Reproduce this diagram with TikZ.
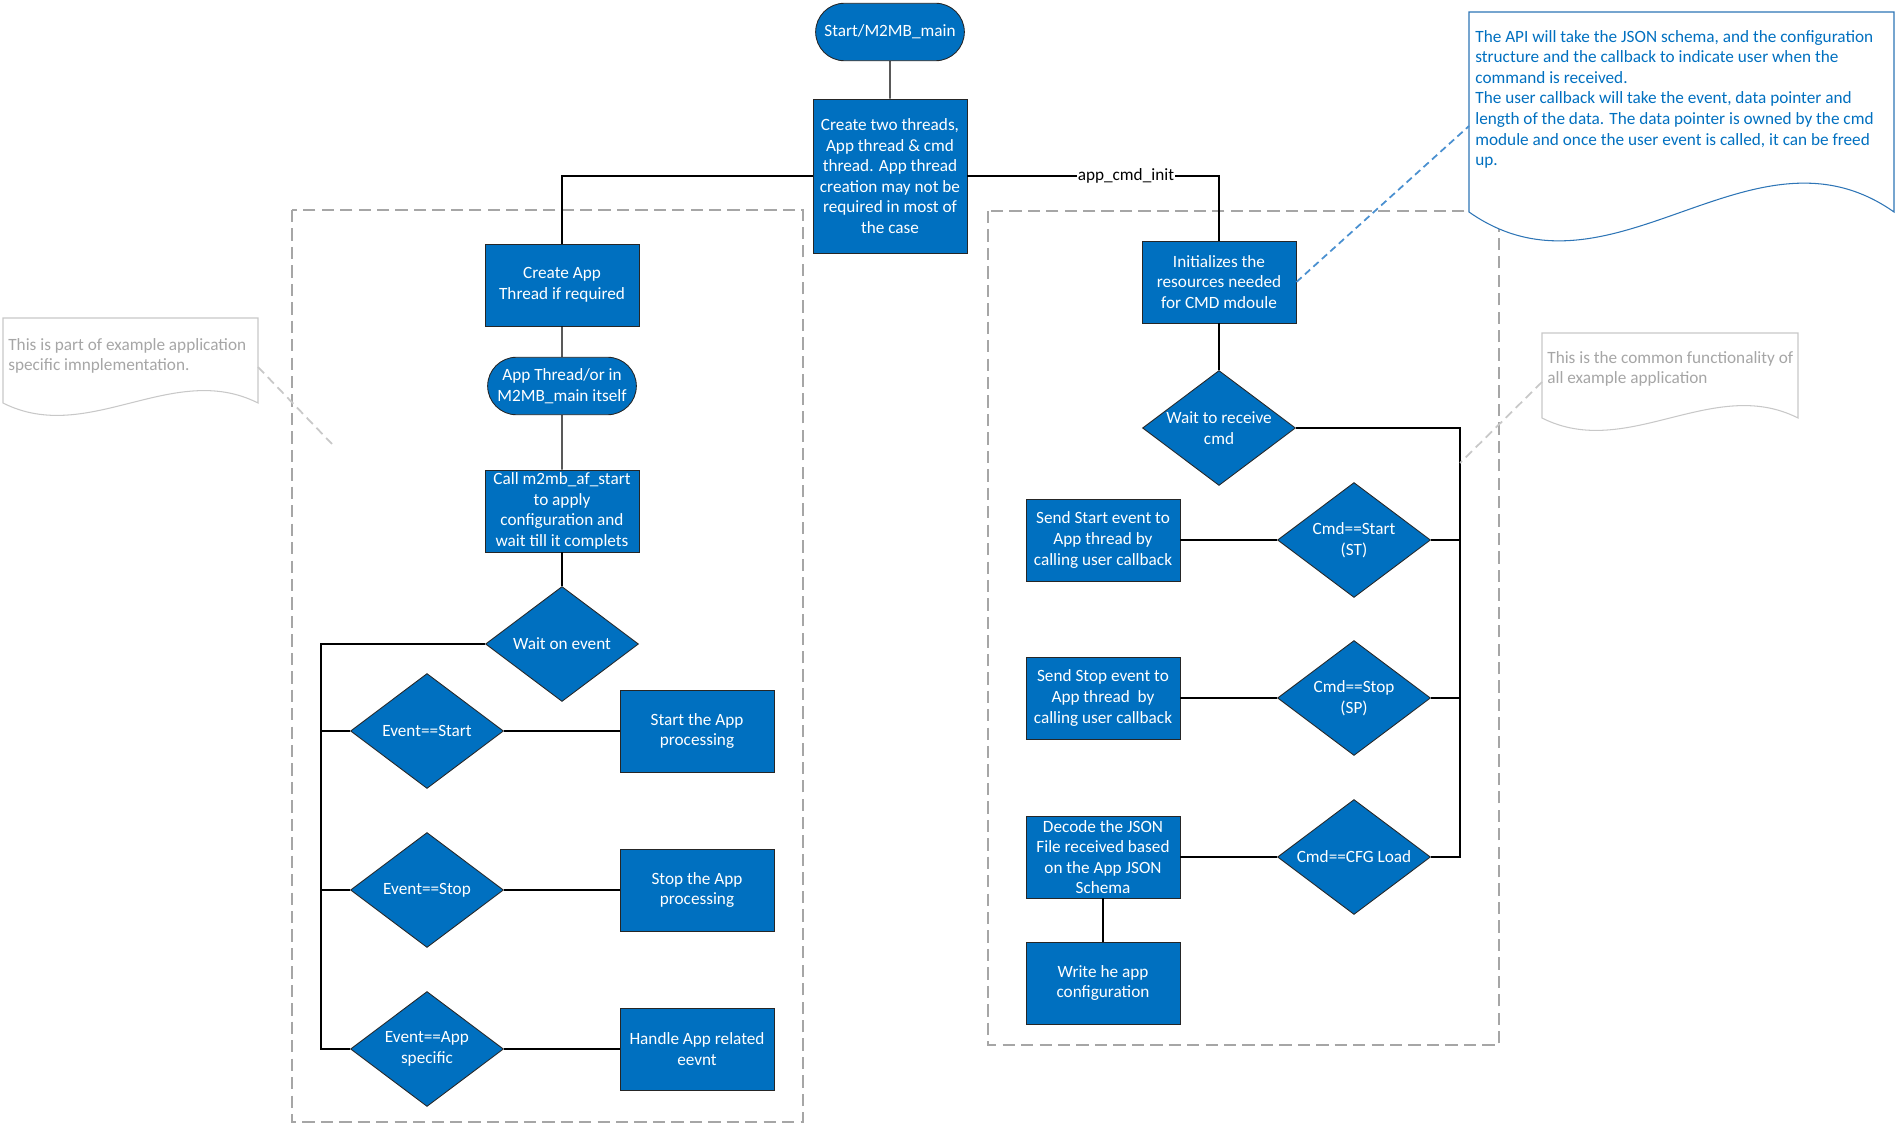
\documentclass[tikz,border=0pt]{standalone}
\usepackage{fontspec}
\setmainfont{Carlito}
\usetikzlibrary{shapes.geometric,shapes.misc}
\definecolor{flowblue}{HTML}{0070C0}
\definecolor{calloutblue}{HTML}{4A90D0}
\definecolor{noteborder}{HTML}{2E75B6}
\definecolor{notegrey}{HTML}{A6A6A6}
\definecolor{linegrey}{HTML}{C8C8C8}
\definecolor{regiongrey}{HTML}{A6A6A6}
\begin{document}
\begin{tikzpicture}[x=0.02cm,y=-0.02cm,
        font=\fontsize{9.8}{11.7}\selectfont,
        process/.style={rectangle, draw=black!85, line width=0.5pt, fill=flowblue, text=white, align=center, minimum width=3.08cm, minimum height=1.64cm, inner sep=1.5pt},
        terminal/.style={rounded rectangle, draw=black!85, line width=0.5pt, fill=flowblue, text=white, align=center, minimum width=3.08cm, minimum height=1.15cm, inner sep=1.5pt},
        decision/.style={diamond, aspect=1.33, draw=black!85, line width=0.5pt, fill=flowblue, text=white, align=center, minimum width=3.06cm, minimum height=2.3cm, inner sep=0pt},
        link/.style={draw=black, line width=0.8pt},
        region/.style={draw=regiongrey, line width=0.8pt, dash pattern=on 7pt off 3.5pt},
        greynote/.style={draw=linegrey, line width=0.6pt, fill=white},
        bluenote/.style={draw=noteborder, line width=0.6pt, fill=white},
        notetext/.style={align=left, inner sep=0pt, anchor=north west},
        greycallout/.style={draw=linegrey, line width=1pt, dash pattern=on 5pt off 3pt},
        bluecallout/.style={draw=calloutblue, line width=1pt, dash pattern=on 4pt off 2.5pt}]
                \useasboundingbox (0,0) rectangle (1897,1125);

                \draw[region] (292,210) rectangle (803,1122);
                \draw[region] (988,211) rectangle (1499,1045);

                \draw[bluenote] (1469,12) -- (1894,12) -- (1894,212) .. controls (1752,112) and (1611,312) .. (1469,212) -- cycle;
                \node[notetext, text=flowblue] (apinote) at (1475,30) {The API will take the JSON schema, and  the configuration\\structure and the callback to indicate user when the\\command is received.\\The user callback will take the event, data pointer and\\length of the data. The data pointer is owned by the cmd\\module and once the user event is called, it can be freed\\up.};
                \coordinate (apipin) at (1469,126);

                \draw[greynote] (3,318) -- (258,318) -- (258,403) .. controls (173,360) and (88,446) .. (3,403) -- cycle;
                \node[notetext, text=notegrey] (appnote) at (8,338) {This is part of example application\\specific imnplementation.};
                \coordinate (appnotepin) at (258,367);
                \coordinate (appnotetip) at (332,444);

                \draw[greynote] (1542,333) -- (1798,333) -- (1798,418) .. controls (1713,375) and (1627,461) .. (1542,418) -- cycle;
                \node[notetext, text=notegrey] (commonnote) at (1547,351) {This is the common functionality of\\all example application};
                \coordinate (commonpin) at (1542,382);
                \coordinate (commontip) at (1460,463);

                \node[terminal] (start) at (890,32) {Start/M2MB\_main};
                \node[process, minimum height=3.08cm] (mainbox) at (890,176) {Create two threads,\\App thread \& cmd\\thread. App thread\\creation may not be\\required in most of\\the case};

                \node[process] (createapp) at (562,285) {Create App\\Thread if required};
                \node[terminal] (appthread) at (562,386) {App Thread/or in\\M2MB\_main itself};
                \node[process] (callstart) at (562,511) {Call m2mb\_af\_start\\to apply\\configuration and\\wait till it complets};
                \node[decision] (waitevent) at (562,644) {Wait on event};

                \node[decision] (evstart) at (427,731) {Event==Start};
                \node[decision] (evstop) at (427,890) {Event==Stop};
                \node[decision] (evapp) at (427,1049) {Event==App\\specific};
                \node[process] (startapp) at (697,731) {Start the App\\processing};
                \node[process] (stopapp) at (697,890) {Stop the App\\processing};
                \node[process] (handleapp) at (697,1049) {Handle App related\\eevnt};
                \coordinate (lbus) at (321,1049);

                \node[process] (initcmd) at (1219,282) {Initializes the\\resources needed\\for CMD mdoule};
                \node[decision] (waitcmd) at (1219,428) {Wait to receive\\cmd};

                \node[decision] (cmdstart) at (1354,540) {Cmd==Start\\(ST)};
                \node[decision] (cmdstop) at (1354,698) {Cmd==Stop\\(SP)};
                \node[decision] (cmdcfg) at (1354,857) {Cmd==CFG Load};
                \node[process] (sendstart) at (1103,540) {Send Start event to\\App thread by\\calling user callback};
                \node[process] (sendstop) at (1103,698) {Send Stop event to\\App thread \ by\\calling user callback};
                \node[process] (decode) at (1103,857) {Decode the JSON\\File received based\\on the App JSON\\Schema};
                \node[process] (writecfg) at (1103,983) {Write he app\\configuration};
                \coordinate (rbus) at (1460,857);

                \draw[link] (start) -- (mainbox);
                \draw[link] (mainbox.west) -| (createapp.north);
                \draw[link] (mainbox.east) -| node[pos=0.315, fill=white, text=black, inner sep=0.5pt]{app\_cmd\_init} (initcmd.north);

                \draw[link] (createapp) -- (appthread);
                \draw[link] (appthread) -- (callstart);
                \draw[link] (callstart) -- (waitevent);
                \draw[link] (waitevent.west) -| (lbus) -- (evapp.west);
                \draw[link] (evstart.west) -- (evstart.west -| lbus);
                \draw[link] (evstop.west) -- (evstop.west -| lbus);
                \draw[link] (evstart.east) -- (startapp.west);
                \draw[link] (evstop.east) -- (stopapp.west);
                \draw[link] (evapp.east) -- (handleapp.west);

                \draw[link] (initcmd) -- (waitcmd);
                \draw[link] (waitcmd.east) -| (rbus) -- (cmdcfg.east);
                \draw[link] (cmdstart.east) -- (cmdstart.east -| rbus);
                \draw[link] (cmdstop.east) -- (cmdstop.east -| rbus);
                \draw[link] (cmdstart.west) -- (sendstart.east);
                \draw[link] (cmdstop.west) -- (sendstop.east);
                \draw[link] (cmdcfg.west) -- (decode.east);
                \draw[link] (decode) -- (writecfg);

                \draw[bluecallout] (initcmd.east) -- (apipin);
                \draw[greycallout] (appnotepin) -- (appnotetip);
                \draw[greycallout] (commonpin) -- (commontip);
\end{tikzpicture}
\end{document}
